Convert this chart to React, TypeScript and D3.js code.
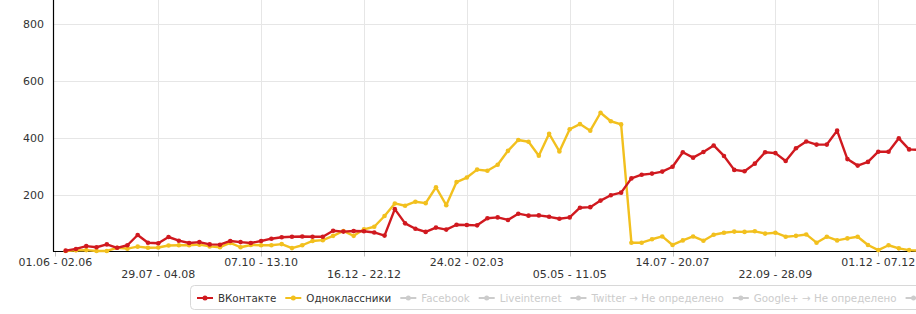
import React, { useEffect, useRef } from "react";
import * as d3 from "d3";

const vkValues = [3, 9, 19, 15, 25, 13, 22, 58, 31, 29, 51, 38, 30, 33, 25, 24, 37, 33, 30, 37, 45, 50, 52, 53, 52, 52, 73, 70, 72, 71, 67, 56, 149, 99, 80, 69, 84, 77, 94, 93, 92, 117, 120, 111, 133, 126, 127, 122, 115, 120, 154, 156, 179, 198, 207, 257, 270, 274, 281, 298, 349, 330, 350, 373, 336, 287, 282, 309, 349, 346, 318, 363, 387, 376, 376, 425, 325, 302, 315, 351, 351, 398, 359, 357];
const okValues = [2, 4, 5, 2, 2, 13, 10, 17, 13, 14, 21, 22, 22, 24, 18, 15, 30, 15, 23, 22, 22, 26, 12, 22, 37, 40, 55, 72, 55, 78, 87, 125, 169, 161, 175, 170, 226, 163, 244, 260, 288, 284, 305, 354, 392, 386, 337, 414, 352, 430, 448, 425, 488, 458, 447, 31, 31, 43, 53, 23, 39, 53, 38, 59, 66, 70, 69, 71, 63, 66, 52, 55, 60, 31, 52, 39, 46, 52, 23, 5, 22, 11, 5, 3];

const tickLabels = ["01.06 - 02.06", "29.07 - 04.08", "07.10 - 13.10", "16.12 - 22.12", "24.02 - 02.03", "05.05 - 11.05", "14.07 - 20.07", "22.09 - 28.09", "01.12 - 07.12"];
const tickIndex = [-1, 9, 19, 29, 39, 49, 59, 69, 79];
const yTicks = [200, 400, 600, 800];

const seriesNames = ["ВКонтакте", "Одноклассники", "Facebook", "Liveinternet", "Twitter → Не определено", "Google+ → Не определено", ""];
const seriesColors = ["#d0191f", "#f2c01e", "#cccccc", "#cccccc", "#cccccc", "#cccccc", "#cccccc"];

export default function App() {
  const ref = useRef<SVGSVGElement>(null);
  useEffect(() => {
    const svg = d3.select(ref.current);
    svg.selectAll("*").remove();
    const W = 916;
    const font = "DejaVu Sans, Verdana, sans-serif";
    const x = d3.scaleLinear().domain([-1, 83]).range([55.4, 919.4]);
    const y = d3.scaleLinear().domain([0, 800]).range([251.5, 24]);
    const axisX = 53;
    const bottom = y(0);

    const g = svg.append("g");
    g.selectAll("line.hg").data(yTicks).join("line")
      .attr("x1", axisX).attr("x2", W).attr("y1", (d) => Math.round(y(d)) + 0.5).attr("y2", (d) => Math.round(y(d)) + 0.5)
      .attr("stroke", "#e6e6e6").attr("stroke-width", 1);
    g.selectAll("line.vg").data(tickIndex.slice(1)).join("line")
      .attr("x1", (d) => Math.round(x(d)) + 0.5).attr("x2", (d) => Math.round(x(d)) + 0.5)
      .attr("y1", 0).attr("y2", bottom)
      .attr("stroke", "#e6e6e6").attr("stroke-width", 1);

    g.selectAll("line.tk").data(tickIndex).join("line")
      .attr("x1", (d) => Math.round(x(d)) + 0.5).attr("x2", (d) => Math.round(x(d)) + 0.5)
      .attr("y1", bottom).attr("y2", bottom + 5)
      .attr("stroke", "#c0c0c0").attr("stroke-width", 1);

    g.selectAll("text.yl").data(yTicks).join("text")
      .attr("x", 44).attr("y", (d) => y(d) + 4)
      .attr("text-anchor", "end").attr("font-family", font).attr("font-size", 11).attr("fill", "#333")
      .text((d) => d);

    g.selectAll("text.xl").data(tickIndex).join("text")
      .attr("x", (d) => x(d)).attr("y", (_d, i) => (i % 2 === 0 ? 266 : 278))
      .attr("text-anchor", "middle").attr("font-family", font).attr("font-size", 11).attr("fill", "#333")
      .text((_d, i) => tickLabels[i]);

    g.append("line").attr("x1", axisX + 0.5).attr("x2", axisX + 0.5).attr("y1", 0).attr("y2", bottom).attr("stroke", "#000").attr("stroke-width", 1.2);
    g.append("line").attr("x1", axisX).attr("x2", W).attr("y1", bottom).attr("y2", bottom).attr("stroke", "#000").attr("stroke-width", 1.2);

    const line = d3.line<number>().x((_d, i) => x(i)).y((d) => y(d));
    [okValues, vkValues].forEach((vals) => {
      const color = vals === vkValues ? seriesColors[0] : seriesColors[1];
      g.append("path").attr("d", line(vals)).attr("fill", "none").attr("stroke", color).attr("stroke-width", 2.4).attr("stroke-linejoin", "round");
      g.append("g").selectAll("circle").data(vals).join("circle")
        .attr("cx", (_d, i) => x(i)).attr("cy", (d) => y(d)).attr("r", 2.3).attr("fill", color);
    });

    const lg = svg.append("g");
    lg.append("rect").attr("x", 190.5).attr("y", 285.5).attr("width", 760).attr("height", 24).attr("rx", 4)
      .attr("fill", "#fff").attr("stroke", "#d8d8d8").attr("stroke-width", 1);
    let cx = 197;
    const ly = 298;
    seriesNames.forEach((name, i) => {
      const c = seriesColors[i];
      lg.append("line").attr("x1", cx).attr("x2", cx + 16).attr("y1", ly).attr("y2", ly).attr("stroke", c).attr("stroke-width", 2);
      lg.append("circle").attr("cx", cx + 8).attr("cy", ly).attr("r", 2.5).attr("fill", c);
      const t = lg.append("text").attr("x", cx + 21).attr("y", ly + 4).attr("font-family", font).attr("font-size", 10.3)
        .attr("fill", i < 2 ? "#333" : "#cccccc").text(name);
      const w = (t.node() as SVGTextElement).getComputedTextLength();
      cx = cx + 21 + w + 9;
    });
  }, []);
  return (
    <svg ref={ref} width={916} height={314} style={{ position: "absolute", left: 0, top: 0, background: "#fff" }} />
  );
}
